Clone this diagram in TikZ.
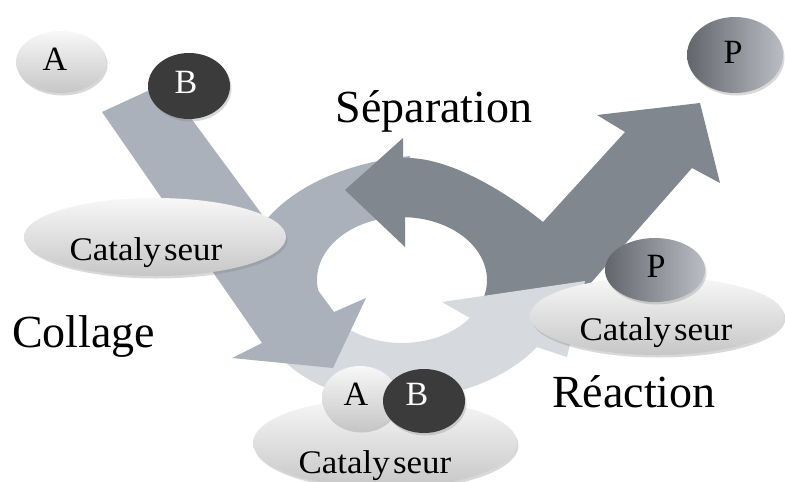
\documentclass[tikz,border=0pt]{standalone}
\usepackage{fontspec}
\setmainfont{Liberation Serif}
\usetikzlibrary{shapes.geometric,shadows}
\definecolor{cmed}{HTML}{AAB1BA}
\definecolor{clight}{HTML}{D6DADF}
\definecolor{cdark}{HTML}{80878F}
\definecolor{bdark}{HTML}{3B3B3B}
\definecolor{pdark}{HTML}{62666C}
\definecolor{plight}{HTML}{BABEC4}
\newcommand{\catword}{\scalebox{1.06}[1]{Cataly\kern3pt seur}}
\begin{document}
\begin{tikzpicture}[x=1pt,y=1pt,
  ball/.style={ellipse, inner sep=0pt, drop shadow={shadow xshift=1.5pt, shadow yshift=-2.5pt, opacity=0.3}},
  lightball/.style={ball, top color=black!3, bottom color=black!22},
  darkball/.style={ball, fill=bdark},
  pball/.style={ball, left color=pdark, right color=plight},
  big/.style={font=\fontsize{46}{50}\selectfont, inner sep=0pt, anchor=base west},
  cattext/.style={font=\fontsize{33}{36}\selectfont, inner sep=0pt, anchor=base},
  letter/.style={font=\fontsize{34}{36}\selectfont, inner sep=0pt, anchor=base},
]
\useasboundingbox (0,0) rectangle (785,-482);
\fill[white] (0,0) rectangle (785,-482);

% ring segment (collage part)
\fill[cmed] (262,-225) .. controls (285,-195) and (330,-165) .. (410,-156) -- (410,-217) -- (402,-217)
  arc[start angle=90,end angle=212,x radius=85,y radius=63] -- (300,-320) -- cycle;

% separation arrow and exit arrow
\fill[cdark] (403,-158) .. controls (450,-156) and (510,-195) .. (543,-222) -- (625,-132) -- (597,-115)
  -- (700,-103) -- (720,-183) -- (692,-168) -- (575,-301) -- (545,-296) -- (482.6,-300.1)
  arc[start angle=-18.5, end angle=90, x radius=85, y radius=63] -- (405,-217) -- (405,-247)
  -- (345,-190) -- (403,-138) -- cycle;

% reaction arrow
\fill[clight] (329.9,-313.4) arc[start angle=212, end angle=323, x radius=85, y radius=63]
  -- (442,-302) -- (585,-281) -- (567,-357) -- (537,-347)
  .. controls (500,-385) and (440,-402) .. (380,-400)
  .. controls (340,-398) and (295,-380) .. (270,-345) -- cycle;

% collage arrow
\fill[cmed] (102,-112) -- (165,-83) -- (334,-312) -- (366,-298) -- (333,-368) -- (232,-358) -- (262,-343) -- cycle;

% balls
\node[lightball, minimum width=90, minimum height=62] (a1) at (61,-62) {};
\node[letter] (a1t) at (55,-70) {A};
\node[darkball, minimum width=82, minimum height=66] (b1) at (189,-86) {};
\node[letter, text=white] (b1t) at (186,-93) {B};
\node[lightball, minimum width=262, minimum height=78] (cat1) at (155,-237) {};
\node[cattext] (cat1t) at (146,-260) {\catword};

\node[pball, minimum width=96, minimum height=76] (p1) at (735,-55) {};
\node[letter] (p1t) at (733,-63) {P};

\node[lightball, minimum width=254, minimum height=78] (cat2) at (657,-316) {};
\node[pball, minimum width=100, minimum height=64] (p2) at (655,-270) {};
\node[letter] (p2t) at (656,-277) {P};
\node[cattext] (cat2t) at (656,-340) {\catword};

\node[lightball, minimum width=264, minimum height=90] (cat3) at (385,-443) {};
\node[lightball, minimum width=76, minimum height=64] (a2) at (360,-398) {};
\node[letter] (a2t) at (356,-405) {A};
\node[darkball, minimum width=82, minimum height=64] (b2) at (424,-401) {};
\node[letter, text=white] (b2t) at (417,-405) {B};
\node[cattext] (cat3t) at (375,-473) {\catword};

% labels
\node[big, anchor=base] (sep) at (434,-122) {Séparation};
\node[big] (col) at (12,-347) {Collage};
\node[big] (rea) at (552,-407) {Réaction};
\end{tikzpicture}
\end{document}
